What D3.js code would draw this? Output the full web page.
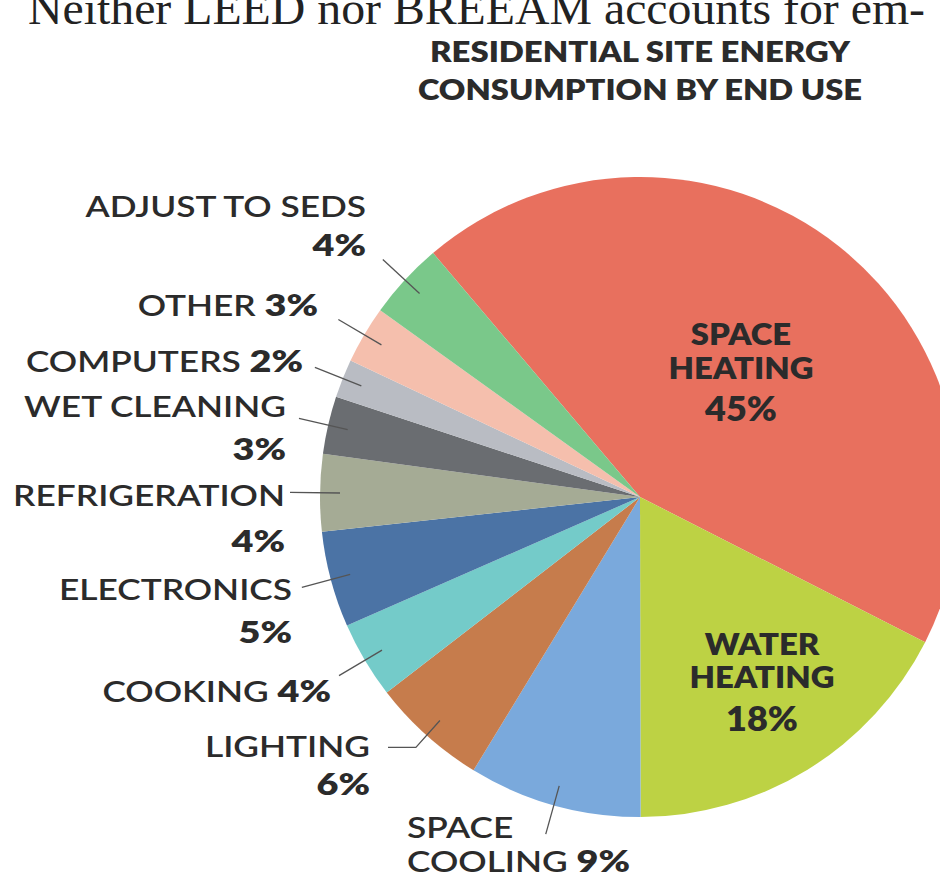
<!DOCTYPE html>
<html>
<head>
<meta charset="utf-8">
<script src="https://cdn.jsdelivr.net/npm/d3@7"></script>
<style>
  html, body { margin: 0; padding: 0; background: #fff; }
  svg { display: block; }
  .lbl { font-family: Lato, "Open Sans", sans-serif; fill: #2b2b2b; }
</style>
</head>
<body>
<div id="chart"></div>
<script>
// slice data, in drawing order (clockwise from the top-left edge of the red slice)
var categories = ["SPACE HEATING", "WATER HEATING", "SPACE COOLING", "LIGHTING", "COOKING",
    "ELECTRONICS", "REFRIGERATION", "WET CLEANING", "COMPUTERS", "OTHER", "ADJUST TO SEDS"];
var shares = [45, 18, 9, 6, 4, 5, 4, 3, 2, 3, 4];
var colors = ["#e8705e", "#bdd244", "#7aa9dc", "#c67c4c", "#74cbc9",
    "#4b73a5", "#a5ab95", "#6a6d71", "#b9bcc3", "#f5bfad", "#7ac88a"];

var pageText = "Neither LEED nor BREEAM accounts for em-";
var titleLines = ["RESIDENTIAL SITE ENERGY", "CONSUMPTION BY END USE"];

// label layout: how each label is broken into lines and where each line sits
var labelLayout = {
    "SPACE HEATING":  {inside: true, x: 741, y: 345, dys: [0, 34, 76], lines: [["SPACE"], ["HEATING"], ["", true]]},
    "WATER HEATING":  {inside: true, x: 762, y: 655, dys: [0, 33, 76], lines: [["WATER"], ["HEATING"], ["", true]]},
    "SPACE COOLING":  {anchor: "start", x: 407, y: 838, dys: [0, 34], lines: [["SPACE"], ["COOLING", true]]},
    "LIGHTING":       {anchor: "end", x: 370, y: 757, dys: [0, 38], lines: [["LIGHTING"], ["", true]], elbow: 388},
    "COOKING":        {anchor: "end", x: 331, y: 702, dys: [0], lines: [["COOKING", true]]},
    "ELECTRONICS":    {anchor: "end", x: 292, y: 600, dys: [0, 43], lines: [["ELECTRONICS"], ["", true]]},
    "REFRIGERATION":  {anchor: "end", x: 285, y: 506, dys: [0, 46], lines: [["REFRIGERATION"], ["", true]]},
    "WET CLEANING":   {anchor: "end", x: 286, y: 417, dys: [0, 43], lines: [["WET CLEANING"], ["", true]]},
    "COMPUTERS":      {anchor: "end", x: 303, y: 372, dys: [0], lines: [["COMPUTERS", true]]},
    "OTHER":          {anchor: "end", x: 318, y: 316, dys: [0], lines: [["OTHER", true]]},
    "ADJUST TO SEDS": {anchor: "end", x: 366, y: 217, dys: [0, 39], lines: [["ADJUST TO SEDS"], ["", true]]}
};

var width = 940, height = 881;
var cx = 640, cy = 497, radius = 320;
// the original face is a wide geometric sans; Lato is stretched to match
var outStretch = 1.26, inStretch = 1.06;

var svg = d3.select("#chart").append("svg")
    .attr("width", width)
    .attr("height", height);

// running text of the page, cut at the top edge
svg.append("text")
    .attr("x", 28)
    .attr("y", 24)
    .attr("textLength", 897)
    .attr("lengthAdjust", "spacingAndGlyphs")
    .style("font-family", "'Liberation Serif', 'DejaVu Serif', serif")
    .style("font-size", "47px")
    .style("fill", "#222")
    .text(pageText);

// chart title
var titleWidths = [420, 444];
svg.selectAll(".title")
    .data(titleLines)
    .enter().append("text")
    .attr("class", "title lbl")
    .attr("x", cx)
    .attr("y", function (d, i) { return 62 + i * 38; })
    .attr("text-anchor", "middle")
    .attr("textLength", function (d, i) { return titleWidths[i]; })
    .attr("lengthAdjust", "spacingAndGlyphs")
    .style("font-size", "28px")
    .style("font-weight", 800)
    .text(function (d) { return d; });

var data = categories.map(function (c, i) {
    return {name: c, share: shares[i], color: colors[i]};
});

var start = -40.3 * Math.PI / 180;
var pie = d3.pie()
    .sort(null)
    .value(function (d) { return d.share; })
    .startAngle(start)
    .endAngle(start + 2 * Math.PI);

var arcs = pie(data);

var arc = d3.arc().innerRadius(0).outerRadius(radius);
var innerPt = d3.arc().innerRadius(300).outerRadius(300);
var outerPt = d3.arc().innerRadius(350).outerRadius(350);
var elbowPt = d3.arc().innerRadius(336).outerRadius(336);

var g = svg.append("g")
    .attr("transform", "translate(" + cx + "," + cy + ")");

g.selectAll(".slice")
    .data(arcs)
    .enter().append("path")
    .attr("class", "slice")
    .attr("d", arc)
    .style("fill", function (d) { return d.data.color; });

// leader lines for the outside labels
g.selectAll(".leader")
    .data(arcs.filter(function (d) { return !labelLayout[d.data.name].inside; }))
    .enter().append("path")
    .attr("class", "leader")
    .attr("d", function (d) {
        var lay = labelLayout[d.data.name];
        var a = innerPt.centroid(d);
        if (lay.elbow) {
            var b = elbowPt.centroid(d);
            return d3.line()([a, b, [lay.elbow - cx, b[1]]]);
        }
        return d3.line()([a, outerPt.centroid(d)]);
    })
    .style("fill", "none")
    .style("stroke", "#555")
    .style("stroke-width", 1.3);

// labels
arcs.forEach(function (d) {
    var lay = labelLayout[d.data.name];
    var k = lay.inside ? inStretch : outStretch;
    var t = svg.append("g")
        .attr("transform", "translate(" + lay.x + "," + lay.y + ") scale(" + k + ",1)")
        .append("text")
        .attr("class", "lbl")
        .attr("text-anchor", lay.inside ? "middle" : lay.anchor)
        .style("font-size", lay.inside ? "31px" : "28px");
    lay.lines.forEach(function (ln, i) {
        var line = t.append("tspan")
            .attr("x", 0)
            .attr("y", lay.dys[i]);
        if (ln[0]) {
            line.append("tspan")
                .style("font-weight", lay.inside ? 800 : 600)
                .text(ln[0]);
        }
        if (ln[1]) {
            line.append("tspan")
                .style("font-weight", 800)
                .style("font-size", lay.inside ? "34px" : "30px")
                .text((ln[0] ? " " : "") + d.data.share + "%");
        }
    });
});
</script>
</body>
</html>
